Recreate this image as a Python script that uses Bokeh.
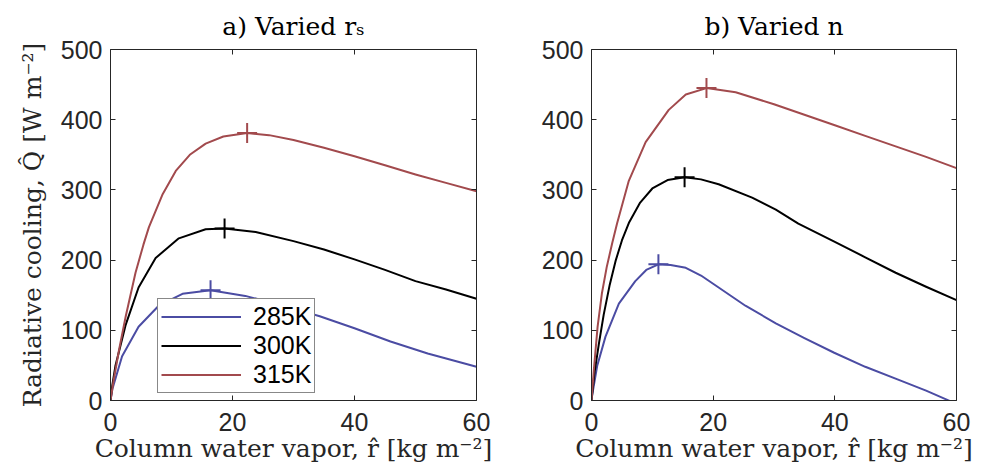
from bokeh.plotting import figure
from bokeh.models import LinearAxis, FixedTicker, Legend, LegendItem, Range1d
from bokeh.layouts import row
from bokeh.embed import file_html
from bokeh.resources import INLINE

# ---------------- data ----------------
temps = ["285K", "300K", "315K"]
colors = ["#4B4CA3", "#000000", "#A24A4D"]

x_ticks = [0, 20, 40, 60]
y_ticks = [0, 100, 200, 300, 400, 500]

titles = ["a) Varied r\u209b", "b) Varied n"]

# panel a) varied r_s
a285_x = [0, 0.3, 1.9, 4.6, 7.9, 11.8, 16.4, 22.1, 29.2, 34.3, 40, 45.9, 52, 60]
a285_y = [0, 16, 63, 105, 135, 152, 157, 149, 133, 120, 103, 84, 67, 48]
a300_x = [0, 0.3, 0.8, 2.46, 4.6, 7.4, 11.2, 15.6, 18.7, 23.8, 30, 35, 40, 45, 50, 55, 60]
a300_y = [0, 22, 49, 107, 161, 203, 231, 244, 245, 240, 227, 215, 201, 186, 170, 158, 145]
a315_x = [0, 0.5, 1.4, 2.5, 4.1, 5.4, 6.3, 8.5, 10.7, 13, 15.6, 18.5, 22.4, 26, 30, 35, 40, 45, 50, 55, 60]
a315_y = [0, 28, 72, 120, 182, 222, 247, 293, 327, 350, 366, 376, 381, 378, 371, 360, 348, 335, 322, 310, 298]
a_peak_x = [16.4, 18.7, 22.4]
a_peak_y = [157, 245, 381]

# panel b) varied n
b285_x = [0, 0.1, 0.93, 2.3, 4.5, 7.2, 9, 11, 13, 15.5, 18, 20.9, 25.3, 30.3, 35, 39.9, 45, 50.3, 55, 58.2, 60]
b285_y = [0, 7, 49, 91, 138, 170, 186, 194, 193, 189, 178, 161, 135, 110, 89, 68, 48, 30, 14, 2, -5]
b300_x = [0, 0.5, 1.2, 2.0, 3.0, 4.0, 5.0, 6.2, 8, 10, 12.5, 15.3, 18, 20.9, 26.4, 30.3, 34, 40, 45, 50, 55, 60]
b300_y = [0, 40, 80, 122, 165, 200, 228, 254, 282, 302, 314, 318, 315, 308, 289, 272, 252, 226, 204, 182, 162, 143]
b315_x = [0, 0.4, 1.0, 1.7, 2.5, 3.4, 4.2, 6.1, 8.9, 12.7, 15.5, 18.9, 23.7, 30, 35, 40, 45, 50, 55, 60]
b315_y = [0, 45, 105, 152, 190, 224, 252, 312, 368, 414, 436, 445, 439, 422, 407, 392, 377, 362, 347, 331]
b_peak_x = [11.0, 15.3, 18.9]
b_peak_y = [194, 318, 445]

AX = "#262626"
SANS = "Liberation Sans"
SERIF = "DejaVu Serif"


def style_axis(ax, ticks, labels=True, standoff=10):
    ax.ticker = FixedTicker(ticks=ticks)
    ax.axis_line_color = AX
    ax.axis_line_width = 1
    ax.major_tick_line_color = AX
    ax.major_tick_line_width = 1
    ax.major_tick_in = 5
    ax.major_tick_out = 0
    ax.minor_tick_line_color = None
    ax.major_label_text_font = SANS
    ax.major_label_text_font_size = "25px"
    ax.major_label_text_color = AX
    ax.major_label_standoff = standoff
    if not labels:
        ax.major_label_text_font_size = "1px"
        ax.major_label_text_color = None
        ax.major_label_standoff = 0


def make_fig(width, bl, br, series, peaks, ttl, ylabel):
    p = figure(width=width, height=470, x_range=Range1d(0, 60), y_range=Range1d(0, 500),
               output_backend="svg", toolbar_location=None,
               min_border_left=bl, min_border_right=br, min_border_top=44, min_border_bottom=70)
    p.xgrid.visible = False
    p.ygrid.visible = False
    p.outline_line_color = None
    p.background_fill_color = "white"
    p.border_fill_color = "white"

    p.title.text = ttl
    p.title.text_font = SERIF
    p.title.text_font_size = "25px"
    p.title.text_font_style = "normal"
    p.title.text_color = "black"
    p.title.align = "center"
    p.title.standoff = 18

    xa = p.xaxis[0]
    ya = p.yaxis[0]
    style_axis(xa, x_ticks, standoff=12)
    style_axis(ya, y_ticks, standoff=8)
    xa.axis_label = "Column water vapor, r\u0302 [kg m\u207b\u00b2]"
    xa.axis_label_text_font = SERIF
    xa.axis_label_text_font_size = "25px"
    xa.axis_label_text_font_style = "normal"
    xa.axis_label_text_color = AX
    xa.axis_label_standoff = 0
    if ylabel:
        ya.axis_label = ylabel
        ya.axis_label_text_font = SERIF
        ya.axis_label_text_font_size = "25px"
        ya.axis_label_text_font_style = "normal"
        ya.axis_label_text_color = AX
        ya.axis_label_standoff = 11

    top = LinearAxis()
    style_axis(top, x_ticks, labels=False)
    p.add_layout(top, "above")
    right = LinearAxis()
    style_axis(right, y_ticks, labels=False)
    p.add_layout(right, "right")

    renderers = []
    for (xs, ys), c in zip(series, colors):
        r = p.line(xs, ys, line_color=c, line_width=2, line_join="round")
        renderers.append(r)
    px, py = peaks
    for i, c in enumerate(colors):
        p.scatter([px[i]], [py[i]], marker="cross", size=20, line_color=c, line_width=2)
    return p, renderers


p1, r1 = make_fig(492, 110, 16,
                  [(a285_x, a285_y), (a300_x, a300_y), (a315_x, a315_y)],
                  (a_peak_x, a_peak_y), titles[0],
                  "Radiative cooling, Q\u0302 [W m\u207b\u00b2]")
p2, r2 = make_fig(486, 99, 22,
                  [(b285_x, b285_y), (b300_x, b300_y), (b315_x, b315_y)],
                  (b_peak_x, b_peak_y), titles[1],
                  None)

legend = Legend(items=[LegendItem(label=t, renderers=[r]) for t, r in zip(temps, r1)],
                location=(47, 7), border_line_color="#111111", border_line_width=1,
                background_fill_color="white", background_fill_alpha=1,
                label_text_font=SANS, label_text_font_size="25px", label_text_color="black",
                glyph_width=80, glyph_height=27, label_height=27, spacing=0,
                padding=3, margin=0, label_standoff=12)
p1.add_layout(legend)

layout = row(p1, p2, spacing=0)
open("out.html", "w").write(file_html(layout, INLINE))
